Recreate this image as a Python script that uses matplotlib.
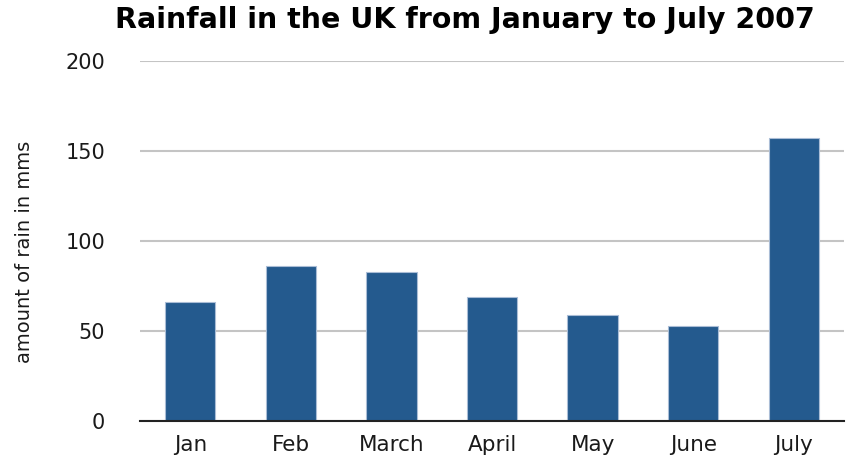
import matplotlib
matplotlib.use('Agg')
import matplotlib.pyplot as plt

# Rainfall in the UK, Jan - July 2007 (mm)
months = ["Jan", "Feb", "March", "April", "May", "June", "July"]
rainfall = [66, 86, 83, 69, 59, 53, 157]
y_ticks = [0, 50, 100, 150, 200]

plt.rcParams['font.family'] = ['DejaVu Sans']

fig = plt.figure(figsize=(8.63, 4.59), dpi=100)
ax = fig.add_axes([140 / 863, 38 / 459, 704 / 863, 360 / 459])

ax.bar(range(len(months)), rainfall, width=0.5, color='#245a8e',
       edgecolor='#aabdd6', linewidth=0.8, zorder=3)

ax.set_xlim(-0.5, len(months) - 0.5)
ax.set_ylim(0, 200)
ax.set_yticks(y_ticks)
ax.set_xticks(range(len(months)))
ax.set_xticklabels(months, fontsize=15.5)
ax.tick_params(axis='y', labelsize=15, length=0, pad=25, labelcolor='#1a1a1a')
ax.tick_params(axis='x', length=0, pad=10, labelcolor='#1a1a1a')

ax.grid(axis='y', color='#c4c4c4', linewidth=1.5, zorder=0)
for side in ['top', 'right', 'left']:
    ax.spines[side].set_visible(False)
ax.spines['bottom'].set_color('#222222')
ax.spines['bottom'].set_linewidth(1.5)
ax.spines['bottom'].set_zorder(4)

ax.set_ylabel("amount of rain in mms", fontsize=14, color='#1a1a1a')
ax.yaxis.set_label_coords(-106 / 704, 0.47)

fig.text(465 / 863, 1 - 20 / 459, "Rainfall in the UK from January to July 2007",
         ha='center', va='center', fontsize=20.5, fontweight='bold')

plt.savefig("out.png", dpi=100)
